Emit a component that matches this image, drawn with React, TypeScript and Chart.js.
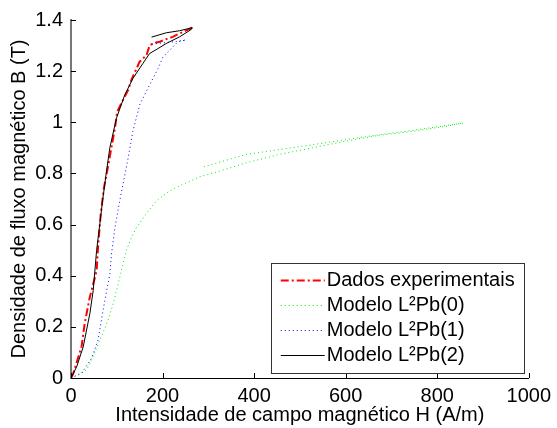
import { useEffect, useRef } from 'react';
import { Chart, registerables } from 'chart.js';

Chart.register(...registerables);

// Dados experimentais
const expH = [0, 5, 23, 30, 41, 56, 59, 65, 72, 79, 96, 101, 125, 132, 150, 165, 172, 186, 194, 208, 222, 237, 265];
const expB = [0, 0.018, 0.122, 0.214, 0.316, 0.42, 0.51, 0.642, 0.744, 0.809, 0.977, 1.042, 1.127, 1.166, 1.237, 1.263, 1.302, 1.312, 1.315, 1.325, 1.334, 1.347, 1.37];

// Modelo L²Pb(0)
const m0H = [0, 34, 48, 63, 81, 92, 103, 110, 121, 132, 143, 161, 186, 215, 244, 280, 324, 382, 454, 527, 599, 672, 744, 817, 857, 744, 672, 599, 527, 454, 382, 290];
const m0B = [0, 0.031, 0.083, 0.148, 0.226, 0.29, 0.368, 0.42, 0.498, 0.55, 0.588, 0.634, 0.692, 0.731, 0.757, 0.786, 0.809, 0.841, 0.874, 0.9, 0.926, 0.949, 0.964, 0.984, 0.997, 0.968, 0.951, 0.932, 0.912, 0.893, 0.874, 0.826];

// Modelo L²Pb(1)
const m1H = [0, 23, 45, 59, 70, 78, 85, 88.5, 96, 105, 117, 125, 135, 150, 168, 190, 201, 219, 233, 251, 230, 200, 172];
const m1B = [0, 0.018, 0.077, 0.148, 0.264, 0.342, 0.407, 0.485, 0.588, 0.679, 0.789, 0.861, 0.964, 1.068, 1.133, 1.21, 1.256, 1.288, 1.314, 1.322, 1.316, 1.31, 1.305];

// Modelo L²Pb(2)
const m2H = [0, 1.5, 12.4, 26.7, 41.3, 48.5, 55.9, 63, 68.9, 77.6, 84.8, 99.3, 117.4, 135.4, 157, 171.7, 189.8, 208, 237, 262, 265, 237, 208, 176];
const m2B = [0, 0.005, 0.044, 0.122, 0.253, 0.342, 0.498, 0.603, 0.692, 0.809, 0.9, 1.016, 1.107, 1.172, 1.23, 1.269, 1.288, 1.308, 1.334, 1.362, 1.37, 1.358, 1.35, 1.333];

const seriesLabels = ['Dados experimentais', 'Modelo L²Pb(0)', 'Modelo L²Pb(1)', 'Modelo L²Pb(2)'];
const xTicks = [0, 200, 400, 600, 800, 1000];
const yTicks = [0, 0.2, 0.4, 0.6, 0.8, 1, 1.2, 1.4];
const xTitle = 'Intensidade de campo magnético H (A/m)';
const yTitle = 'Densidade de fluxo magnético B (T)';

const FONT = 'Liberation Sans, Arial, Helvetica, sans-serif';

const zip = (xs: number[], ys: number[]) => xs.map((x, i) => ({ x, y: ys[i] }));

const inwardTicks = {
  id: 'inwardTicks',
  afterDraw(chart: any) {
    const { ctx, chartArea, scales } = chart;
    const x = scales.x;
    const y = scales.y;
    ctx.save();
    ctx.strokeStyle = '#000';
    ctx.lineWidth = 1;
    ctx.beginPath();
    x.ticks.forEach((t: any) => {
      const px = Math.round(x.getPixelForValue(t.value)) + 0.5;
      ctx.moveTo(px, chartArea.bottom);
      ctx.lineTo(px, chartArea.bottom - 5);
    });
    y.ticks.forEach((t: any) => {
      const py = Math.round(y.getPixelForValue(t.value)) + 0.5;
      ctx.moveTo(chartArea.left, py);
      ctx.lineTo(chartArea.left + 5, py);
    });
    ctx.stroke();
    ctx.restore();
  },
};

const insideLegend = {
  id: 'insideLegend',
  afterDraw(chart: any) {
    const { ctx, chartArea } = chart;
    const left = chartArea.right - 258;
    const top = chartArea.bottom - 115;
    const w = 253;
    const h = 110;
    ctx.save();
    ctx.fillStyle = '#fff';
    ctx.fillRect(left, top, w, h);
    ctx.strokeStyle = '#333';
    ctx.lineWidth = 1;
    ctx.setLineDash([]);
    ctx.strokeRect(Math.round(left) + 0.5, Math.round(top) + 0.5, w, h);
    ctx.font = `20px ${FONT}`;
    ctx.textBaseline = 'middle';
    ctx.fillStyle = '#000';
    chart.data.datasets.forEach((ds: any, i: number) => {
      const cy = top + 17 + i * 25;
      ctx.beginPath();
      ctx.strokeStyle = ds.borderColor;
      ctx.lineWidth = ds.borderWidth;
      ctx.setLineDash(ds.borderDash || []);
      ctx.moveTo(left + 10, Math.round(cy) + 0.5);
      ctx.lineTo(left + 54, Math.round(cy) + 0.5);
      ctx.stroke();
      ctx.setLineDash([]);
      ctx.fillText(ds.label, left + 56, cy);
    });
    ctx.restore();
  },
};

export default function App() {
  const ref = useRef<HTMLCanvasElement>(null);
  useEffect(() => {
    if (!ref.current) return;
    const tickFont = { family: FONT, size: 20 };
    const chart = new Chart(ref.current, {
      type: 'scatter',
      data: {
        datasets: [
          { label: seriesLabels[0], data: zip(expH, expB), borderColor: '#ff0000', borderWidth: 2, borderDash: [8, 3, 2, 3], showLine: true, pointRadius: 0, order: 4, tension: 0 },
          { label: seriesLabels[1], data: zip(m0H, m0B), borderColor: '#00ee00', borderWidth: 1, borderDash: [1, 3], showLine: true, pointRadius: 0, order: 3, tension: 0 },
          { label: seriesLabels[2], data: zip(m1H, m1B), borderColor: '#0000ff', borderWidth: 1, borderDash: [1, 3], showLine: true, pointRadius: 0, order: 2, tension: 0 },
          { label: seriesLabels[3], data: zip(m2H, m2B), borderColor: '#000000', borderWidth: 1, borderDash: [], showLine: true, pointRadius: 0, order: 1, tension: 0 },
        ],
      },
      options: {
        animation: false,
        responsive: false,
        layout: { padding: { top: 18, right: 26, left: 0, bottom: 0 } },
        plugins: { legend: { display: false }, tooltip: { enabled: false } },
        scales: {
          x: {
            type: 'linear',
            min: 0,
            max: 1000,
            afterBuildTicks: (s: any) => { s.ticks = xTicks.map((v) => ({ value: v })); },
            afterFit: (s: any) => { s.height = 50; },
            grid: { display: false, drawTicks: false },
            border: { display: true, color: '#000', width: 1 },
            ticks: { font: tickFont, color: '#000', padding: 6, maxRotation: 0, autoSkip: false, callback: (v: any) => String(v) },
            title: { display: true, text: xTitle, font: { family: FONT, size: 20 }, color: '#000', padding: { top: 0, bottom: 1 } },
          },
          y: {
            type: 'linear',
            min: 0,
            max: 1.4,
            afterBuildTicks: (s: any) => { s.ticks = yTicks.map((v) => ({ value: v })); },
            afterFit: (s: any) => { s.width = 71; },
            grid: { display: false, drawTicks: false },
            border: { display: true, color: '#777', width: 2 },
            ticks: { font: tickFont, color: '#000', padding: 8, autoSkip: false, callback: (v: any) => String(v) },
            title: { display: true, text: yTitle, font: { family: FONT, size: 20 }, color: '#000', padding: { top: 7, bottom: 0 } },
          },
        },
      },
      plugins: [inwardTicks, insideLegend],
    });
    return () => chart.destroy();
  }, []);
  return (
    <div style={{ position: 'absolute', left: 0, top: 0, width: 557, height: 428, background: '#fff' }}>
      <canvas ref={ref} width={557} height={428} style={{ display: 'block' }} />
    </div>
  );
}
